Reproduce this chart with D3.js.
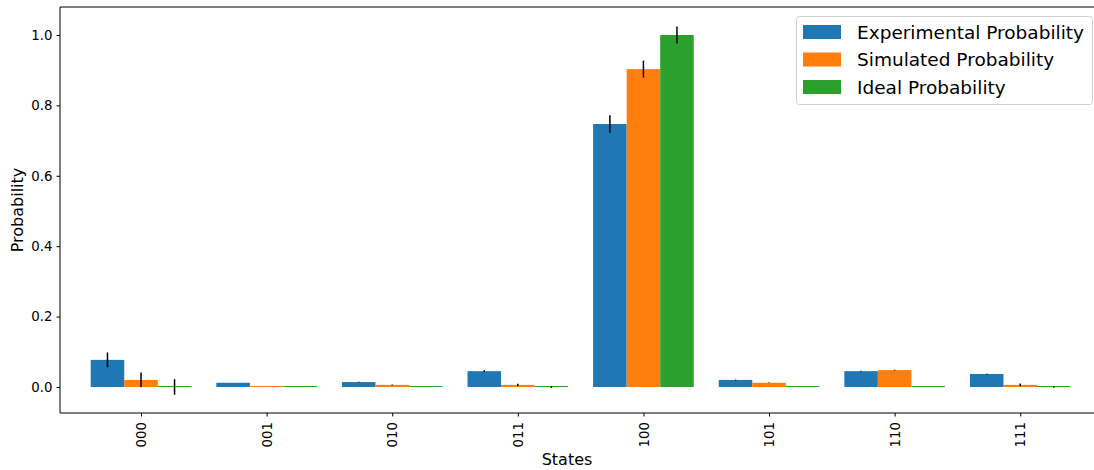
<!DOCTYPE html>
<html>
<head>
<meta charset="utf-8">
<script src="https://cdn.jsdelivr.net/npm/d3@7"></script>
<style>
  body { margin: 0; background: #fff; }
  text { font-family: "DejaVu Sans", sans-serif; fill: #000; }
</style>
</head>
<body>
<svg id="chart" width="1094" height="470"></svg>
<script>
// Measurement outcomes for a 3-qubit circuit
const states = ["000", "001", "010", "011", "100", "101", "110", "111"];
const seriesNames = ["Experimental Probability", "Simulated Probability", "Ideal Probability"];
const seriesColors = ["#1f77b4", "#ff7f0e", "#2ca02c"];

const experimental    = [0.077, 0.012, 0.014, 0.045, 0.747, 0.020, 0.045, 0.037];
const experimentalErr = [0.021, 0.000, 0.001, 0.003, 0.025, 0.001, 0.001, 0.001];
const simulated       = [0.020, 0.000, 0.006, 0.006, 0.903, 0.012, 0.048, 0.006];
const simulatedErr    = [0.021, 0.000, 0.001, 0.003, 0.024, 0.001, 0.001, 0.004];
const ideal           = [0.000, 0.000, 0.000, 0.000, 1.000, 0.000, 0.000, 0.000];
const idealErr        = [0.022, 0.000, 0.000, 0.003, 0.024, 0.000, 0.000, 0.002];

const yTicks = [0.0, 0.2, 0.4, 0.6, 0.8, 1.0];

const series = [
  { values: experimental, errors: experimentalErr },
  { values: simulated, errors: simulatedErr },
  { values: ideal, errors: idealErr }
];

const svg = d3.select("#chart");
const plot = { left: 60, right: 1100, top: 7, bottom: 413 };

// Numeric x positions: state index, bars offset by one bar width
const barWidth = 0.267;
const x = d3.scaleLinear().domain([-0.645, 7.635]).range([plot.left, plot.right]);
const y = d3.scaleLinear().domain([-0.0739, 1.0795]).range([plot.bottom, plot.top]);

// Bars
series.forEach((s, si) => {
  const offset = (si - 1) * barWidth;
  const g = svg.append("g");
  g.selectAll("rect")
    .data(s.values)
    .join("rect")
    .attr("x", (d, i) => x(i + offset - barWidth / 2))
    .attr("width", x(barWidth) - x(0))
    .attr("y", d => Math.min(y(d), y(0) - 1))
    .attr("height", d => Math.max(y(0) - y(d), 1))
    .attr("fill", seriesColors[si]);
});

// Error bars
series.forEach((s, si) => {
  const offset = (si - 1) * barWidth;
  svg.append("g").selectAll("line")
    .data(s.values.map((v, i) => ({ v, e: s.errors[i], i })).filter(d => d.e > 0))
    .join("line")
    .attr("x1", d => x(d.i + offset))
    .attr("x2", d => x(d.i + offset))
    .attr("y1", d => y(d.v - d.e))
    .attr("y2", d => y(d.v + d.e))
    .attr("stroke", "#000")
    .attr("stroke-width", 1.5);
});

// Spines
svg.append("line").attr("x1", plot.left).attr("x2", plot.left)
  .attr("y1", plot.top).attr("y2", plot.bottom).attr("stroke", "#000").attr("stroke-width", 1);
svg.append("line").attr("x1", plot.left).attr("x2", plot.right)
  .attr("y1", plot.bottom).attr("y2", plot.bottom).attr("stroke", "#000").attr("stroke-width", 1);
svg.append("line").attr("x1", plot.left).attr("x2", plot.right)
  .attr("y1", plot.top).attr("y2", plot.top).attr("stroke", "#000").attr("stroke-width", 1);

// Y axis
const yAxis = d3.axisLeft(y).tickValues(yTicks).tickFormat(d3.format(".1f")).tickSize(3.5).tickPadding(4);
const yg = svg.append("g").attr("transform", `translate(${plot.left},0)`).call(yAxis);
yg.select(".domain").remove();
yg.selectAll("text").style("font-size", "13.3px").style("font-family", "DejaVu Sans");

// X axis with rotated state labels
const xAxis = d3.axisBottom(x).tickValues(d3.range(states.length)).tickFormat(i => states[i]).tickSize(3.5);
const xg = svg.append("g").attr("transform", `translate(0,${plot.bottom})`).call(xAxis);
xg.select(".domain").remove();
xg.selectAll("text")
  .style("font-size", "13.3px")
  .style("font-family", "DejaVu Sans")
  .attr("transform", "rotate(-90)")
  .attr("text-anchor", "end")
  .attr("dy", "0.35em")
  .attr("x", -9)
  .attr("y", 0);

// Axis titles
svg.append("text").attr("x", 567).attr("y", 465)
  .attr("text-anchor", "middle").style("font-size", "16px").text("States");
svg.append("text").attr("transform", `translate(23,210) rotate(-90)`)
  .attr("text-anchor", "middle").style("font-size", "16px").text("Probability");

// Legend
const legend = svg.append("g");
legend.append("rect")
  .attr("x", 796.5).attr("y", 16.5).attr("width", 296).attr("height", 88)
  .attr("rx", 3).attr("fill", "#fff").attr("fill-opacity", 0.8)
  .attr("stroke", "#d0d0d0").attr("stroke-width", 1);
seriesNames.forEach((name, i) => {
  const cy = 32 + i * 27.5;
  legend.append("rect").attr("x", 803).attr("y", cy - 7).attr("width", 38).attr("height", 14)
    .attr("fill", seriesColors[i]);
  legend.append("text").attr("x", 857).attr("y", cy).attr("dy", "0.36em")
    .style("font-size", "18.5px").text(name);
});
</script>
</body>
</html>
